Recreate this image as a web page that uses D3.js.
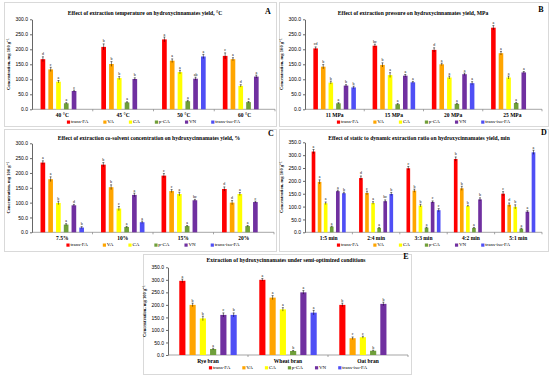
<!DOCTYPE html>
<html lang="en">
<head>
  <meta charset="utf-8">
  <title>Hydroxycinnamates yield</title>
  <style>
  body { margin: 0; background: #fff; }
  svg { display: block; font-family: "Liberation Serif", "Times New Roman", serif; }
  .axis text { font-size: 5px; fill: #000; }
  .axis path, .axis line { stroke: #000; stroke-width: 0.6; }
  .box { fill: #fff; stroke: #d9d9d9; stroke-width: 1; }
  </style>
  <script src="https://cdn.jsdelivr.net/npm/d3@7"></script>
</head>
<body>
<svg width="550" height="380"></svg>
<script>
var series = ["trans-FA", "VA", "CA", "p-CA", "VN", "trans-iso-FA"];
var colors = ["#ff0000", "#ffa500", "#ffff00", "#6f9f3a", "#7030a0", "#4f4ff5"];

// A: temperature
var tempCats = ["40 °C", "45 °C", "50 °C", "60 °C"];
var tempVals = [[167, 133, 92, 20, 61, null], [208, 151, 104, 23, 101, null], [233, 162, 124, 27, 102, 176], [178, 167, 78, 24, 109, null]];
var tempErr = [[8, 7, 4, 2, 3, null], [10, 8, 5, 2, 4, null], [8, 6, 6, 3, 5, 7], [10, 5, 4, 2, 5, null]];
var tempSig = [["d", "c", "a", "a", "c", null], ["b", "b", "b", "a", "b", null], ["a", "a", "a", "a", "ab", "a"], ["c", "a", "d", "a", "a", null]];

// B: pressure
var pressCats = ["11 MPa", "15 MPa", "20 MPa", "25 MPa"];
var pressVals = [[203, 142, 89, 20, 79, 73], [212, 148, 114, 17, 112, 90], [198, 150, 106, 18, 117, 87], [272, 187, 106, 21, 123, null]];
var pressErr = [[5, 7, 5, 2, 3, 4], [5, 7, 8, 2, 4, 3], [7, 4, 5, 2, 4, 5], [7, 6, 5, 2, 3, null]];
var pressSig = [["cd", "b", "b", "a", "b", "b"], ["bc", "b", "a", "a", "a", "a"], ["d", "a", "a", "a", "a", "a"], ["a", "a", "a", "a", "a", null]];

// C: co-solvent
var solvCats = ["7.5%", "10%", "15%", "20%"];
var solvVals = [[235, 179, 99, 26, 91, 16], [228, 152, 80, 18, 126, 34], [191, 139, 129, 21, 108, null], [146, 100, 129, 21, 102, null]];
var solvErr = [[6, 8, 6, 3, 3, 3], [7, 8, 7, 2, 6, 4], [7, 5, 6, 2, 3, null], [7, 7, 5, 2, 3, null]];
var solvSig = [["a", "a", "b", "a", "d", "b"], ["b", "b", "c", "a", "a", "a"], ["c", "c", "a", "a", "bc", null], ["d", "d", "a", "a", "c", null]];

// D: static to dynamic ratio
var ratioCats = ["1:5 min", "2:4 min", "3:3 min", "4:2 min", "5:1 min"];
var ratioVals = [[314, 196, 113, 22, 160, 152], [211, 153, 114, 17, 121, 149], [249, 162, 104, 18, 118, 86], [285, 171, 102, 17, 128, null], [150, 107, 99, 14, 80, 311]];
var ratioErr = [[8, 8, 5, 2, 4, 4], [8, 7, 5, 2, 5, 6], [7, 6, 5, 2, 4, 6], [8, 8, 3, 2, 6, null], [8, 7, 8, 2, 4, 8]];
var ratioSig = [["a", "a", "a", "a", "a", "b"], ["d", "c", "a", "a", "bc", "b"], ["c", "b", "b", "a", "c", "c"], ["b", "b", "b", "a", "b", null], ["c", "d", "b", "a", "a", "a"]];

// E: semi-optimized
var branCats = ["Rye bran", "Wheat bran", "Oat bran"];
var branVals = [[296, 200, 146, 24, 160, 160], [300, 229, 182, 16, 250, 169], [200, 67, 71, 17, 204, null]];
var branErr = [[7, 7, 9, 3, 8, 8], [5, 8, 7, 2, 7, 9], [7, 5, 4, 2, 7, null]];
var branSig = [["a", "b", "b", "a", "c", "b"], ["a", "a", "a", "b", "a", "a"], ["b", "c", "c", "b", "b", null]];

var svg = d3.select("svg");

var panels = [
  {letter: "A", title: "Effect of extraction temperature on hydroxycinnamates yield, °C",
   cats: tempCats, vals: tempVals, err: tempErr, sig: tempSig, yMax: 300,
   box: [4, 2, 276, 126], left: 32, right: 275, top: 19.3, bottom: 109.3, titleX: 145, titleY: 15, letterX: 268, letterY: 14, gap: 15},
  {letter: "B", title: "Effect of extraction pressure on hydroxycinnamates yield, MPa",
   cats: pressCats, vals: pressVals, err: pressErr, sig: pressSig, yMax: 300,
   box: [279, 2, 548, 126], left: 305, right: 542, top: 19.3, bottom: 109.3, titleX: 413, titleY: 15, letterX: 541, letterY: 12, gap: 15},
  {letter: "C", title: "Effect of extraction co-solvent concentration on hydroxycinnamates yield, %",
   cats: solvCats, vals: solvVals, err: solvErr, sig: solvSig, yMax: 300,
   box: [4, 129, 276, 251], left: 32, right: 274, top: 143.3, bottom: 232.3, titleX: 149, titleY: 140, letterX: 271, letterY: 136, gap: 15},
  {letter: "D", title: "Effect of static to dynamic extraction ratio on hydroxycinnamates yield, min",
   cats: ratioCats, vals: ratioVals, err: ratioErr, sig: ratioSig, yMax: 350,
   box: [279, 129, 548, 251], left: 305, right: 542, top: 142.3, bottom: 232.3, titleX: 419, titleY: 140, letterX: 544, letterY: 135, gap: 15},
  {letter: "E", title: "Extraction of hydroxycinnamates under semi-optimized conditions",
   cats: branCats, vals: branVals, err: branErr, sig: branSig, yMax: 350,
   box: [143, 254, 411, 374], left: 168, right: 408, top: 267.3, bottom: 355, titleX: 286, titleY: 262, letterX: 406, letterY: 259, gap: 12}
];

panels.forEach(drawPanel);

function drawPanel(p) {
  var g = svg.append("g");

  g.append("rect").attr("class", "box")
      .attr("x", p.box[0] + 0.5).attr("y", p.box[1] + 0.5)
      .attr("width", p.box[2] - p.box[0]).attr("height", p.box[3] - p.box[1]);

  var x0 = d3.scaleBand().domain(p.cats).range([p.left, p.right]);
  var x1 = d3.scaleBand().domain(series).range([0, x0.bandwidth()])
      .paddingInner(0.4).paddingOuter(1.1);
  var y = d3.scaleLinear().domain([0, p.yMax]).range([p.bottom, p.top]);

  // y axis
  g.append("g")
      .attr("class", "axis")
      .attr("transform", "translate(" + p.left + ",0)")
      .call(d3.axisLeft(y).tickValues(d3.range(0, p.yMax + 1, 50))
        .tickSize(2).tickSizeOuter(0).tickPadding(2).tickFormat(d3.format(".1f")));

  // x axis line + category separators
  g.append("line")
      .attr("x1", p.left).attr("x2", p.right)
      .attr("y1", p.bottom).attr("y2", p.bottom)
      .attr("stroke", "#808080").attr("stroke-width", 0.7);

  var bounds = p.cats.map(function(c) { return x0(c); }).concat([p.right]);
  g.selectAll(".sep").data(bounds.slice(1))
    .enter().append("line")
      .attr("x1", function(d) { return d; }).attr("x2", function(d) { return d; })
      .attr("y1", p.bottom).attr("y2", p.bottom + 2)
      .attr("stroke", "#808080").attr("stroke-width", 0.7);

  g.selectAll(".cat").data(p.cats)
    .enter().append("text")
      .attr("x", function(d) { return x0(d) + x0.bandwidth() / 2; })
      .attr("y", p.bottom + 7.5)
      .attr("text-anchor", "middle")
      .style("font-size", "5.5px").style("font-weight", "bold")
      .text(function(d) { return d; });

  // y label
  g.append("text")
      .attr("transform", "translate(" + (p.left - 22) + "," + ((p.top + p.bottom) / 2) + ") rotate(-90)")
      .attr("text-anchor", "middle")
      .style("font-size", "4.6px").style("font-weight", "bold")
      .text("Concentration, mg 100 g⁻¹");

  // bars
  var items = [];
  p.cats.forEach(function(c, i) {
    series.forEach(function(s, j) {
      if (p.vals[i][j] == null) return;
      items.push({cat: c, key: s, j: j, v: p.vals[i][j], e: p.err[i][j], sig: p.sig[i][j]});
    });
  });

  var bw = x1.bandwidth();
  var bar = g.selectAll(".bar").data(items).enter().append("g");

  bar.append("rect")
      .attr("x", function(d) { return x0(d.cat) + x1(d.key); })
      .attr("y", function(d) { return y(d.v); })
      .attr("width", bw)
      .attr("height", function(d) { return y(0) - y(d.v); })
      .attr("fill", function(d) { return colors[d.j]; });

  bar.append("line")
      .attr("x1", function(d) { return x0(d.cat) + x1(d.key) + bw / 2; })
      .attr("x2", function(d) { return x0(d.cat) + x1(d.key) + bw / 2; })
      .attr("y1", function(d) { return y(d.v - d.e); })
      .attr("y2", function(d) { return y(d.v + d.e); })
      .attr("stroke", "#000").attr("stroke-width", 0.5);

  bar.append("line")
      .attr("x1", function(d) { return x0(d.cat) + x1(d.key) + bw / 2 - 1; })
      .attr("x2", function(d) { return x0(d.cat) + x1(d.key) + bw / 2 + 1; })
      .attr("y1", function(d) { return y(d.v + d.e); })
      .attr("y2", function(d) { return y(d.v + d.e); })
      .attr("stroke", "#000").attr("stroke-width", 0.5);

  bar.append("text")
      .attr("x", function(d) { return x0(d.cat) + x1(d.key) + bw / 2; })
      .attr("y", function(d) { return y(d.v + d.e) - 1.5; })
      .attr("text-anchor", "middle")
      .style("font-size", "4px")
      .text(function(d) { return d.sig; });

  // title + letter
  g.append("text")
      .attr("x", p.titleX).attr("y", p.titleY)
      .attr("text-anchor", "middle")
      .style("font-size", "5.6px").style("font-weight", "bold")
      .text(p.title);

  g.append("text")
      .attr("x", p.letterX).attr("y", p.letterY)
      .attr("text-anchor", "middle")
      .style("font-size", "8px").style("font-weight", "bold")
      .text(p.letter);

  // legend: flow layout, centred under the plot
  var leg = g.append("g");
  var entries = leg.selectAll("g").data(series).enter().append("g");
  entries.append("rect")
      .attr("width", 3.2).attr("height", 3.2).attr("y", -2.8)
      .attr("fill", function(d, i) { return colors[i]; });
  entries.append("text")
      .attr("x", 4)
      .style("font-size", "5px")
      .text(function(d) { return d; });

  var xpos = 0;
  entries.each(function() {
    var w = 4 + d3.select(this).select("text").node().getComputedTextLength();
    d3.select(this).attr("transform", "translate(" + xpos + ",0)");
    xpos += w + p.gap;
  });
  var total = xpos - p.gap;
  var cx = (p.left + p.right) / 2;
  leg.attr("transform", "translate(" + (cx - total / 2) + "," + (p.bottom + 14) + ")");
}
</script>
</body>
</html>
